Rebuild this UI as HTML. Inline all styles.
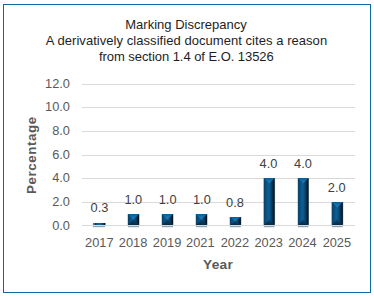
<!DOCTYPE html>
<html><head><meta charset="utf-8"><style>
html,body{margin:0;padding:0;background:#fff;}
body{width:374px;height:297px;overflow:hidden;position:relative;}
svg{position:absolute;left:0;top:0;}
text{font-family:"Liberation Sans",sans-serif;}
.t{font-size:13px;fill:#1e1e1e;}
.ax{font-size:12.8px;fill:#595959;}
.dl{font-size:12.8px;fill:#404040;}
.tt{font-size:13px;font-weight:bold;fill:#595959;}
</style></head><body>
<svg width="374" height="297" viewBox="0 0 374 297">
<defs>
<linearGradient id="g17" x1="0" y1="0" x2="1" y2="0">
<stop offset="0" stop-color="#5a7890"/>
<stop offset="0.15" stop-color="#4a6880"/>
<stop offset="0.22" stop-color="#0a3050"/>
<stop offset="0.32" stop-color="#0b5c92"/>
<stop offset="0.6" stop-color="#0b64a0"/>
<stop offset="0.85" stop-color="#083c62"/>
<stop offset="1" stop-color="#020b14"/>
</linearGradient>
<linearGradient id="gl" x1="0" y1="0" x2="1" y2="0">
<stop offset="0" stop-color="#0a4068"/>
<stop offset="0.5" stop-color="#0b5282"/>
<stop offset="1" stop-color="#0c6398"/>
</linearGradient>
<linearGradient id="gr" x1="0" y1="0" x2="1" y2="0">
<stop offset="0" stop-color="#0b5e92"/>
<stop offset="0.5" stop-color="#073b60"/>
<stop offset="1" stop-color="#020b14"/>
</linearGradient>
<linearGradient id="gt" x1="0" y1="0" x2="0" y2="1">
<stop offset="0" stop-color="#0b5c92"/>
<stop offset="1" stop-color="#1c86c6"/>
</linearGradient>
<linearGradient id="gbt" x1="0" y1="0" x2="0" y2="1">
<stop offset="0" stop-color="#0a4a74"/>
<stop offset="1" stop-color="#052a45"/>
</linearGradient>
</defs>
<rect x="3.5" y="4.5" width="367" height="288" fill="#fff" stroke="#0e6aa2" stroke-width="1"/>
<text x="185.97" y="29.42" text-anchor="middle" class="t">Marking Discrepancy</text>
<text x="186.50" y="44.52" text-anchor="middle" class="t" style="letter-spacing:0.05px">A derivatively classified document cites a reason</text>
<text x="186.33" y="61.36" text-anchor="middle" class="t" style="letter-spacing:-0.05px">from section 1.4 of E.O. 13526</text>
<rect x="82" y="225" width="273" height="1" fill="#d9d9d9"/>
<text x="69.95" y="229.50" text-anchor="end" class="ax">0.0</text>
<rect x="82" y="202" width="273" height="1" fill="#d9d9d9"/>
<text x="69.95" y="205.85" text-anchor="end" class="ax">2.0</text>
<rect x="82" y="178" width="273" height="1" fill="#d9d9d9"/>
<text x="69.95" y="182.20" text-anchor="end" class="ax">4.0</text>
<rect x="82" y="155" width="273" height="1" fill="#d9d9d9"/>
<text x="69.95" y="158.55" text-anchor="end" class="ax">6.0</text>
<rect x="82" y="131" width="273" height="1" fill="#d9d9d9"/>
<text x="69.95" y="134.90" text-anchor="end" class="ax">8.0</text>
<rect x="82" y="107" width="273" height="1" fill="#d9d9d9"/>
<text x="69.95" y="111.25" text-anchor="end" class="ax">10.0</text>
<rect x="82" y="84" width="273" height="1" fill="#d9d9d9"/>
<text x="69.95" y="87.60" text-anchor="end" class="ax">12.0</text>
<rect x="92.90" y="226" width="12.20" height="1.2" fill="#8ea3b3"/>
<rect x="93.50" y="223.00" width="12.20" height="2.00" fill="#000" opacity="0.35"/>
<rect x="93.50" y="223.00" width="12.20" height="2.00" fill="#000" opacity="0.3"/>
<rect x="92.90" y="223.00" width="12.20" height="2.00" fill="url(#g17)"/>
<text x="99.42" y="212.22" text-anchor="middle" class="dl">0.3</text>
<text x="99.35" y="247.14" text-anchor="middle" class="ax">2017</text>
<rect x="127.90" y="226" width="11.10" height="1.2" fill="#8ea3b3"/>
<rect x="128.50" y="214.00" width="11.10" height="11.00" fill="#000" opacity="0.35"/>
<rect x="127.90" y="214.00" width="11.10" height="11.00" fill="#0a4a74"/>
<polygon points="127.90,214.00 133.45,219.50 133.45,219.50 127.90,225.00" fill="url(#gl)"/>
<polygon points="139.00,214.00 133.45,219.50 133.45,219.50 139.00,225.00" fill="url(#gr)"/>
<polygon points="127.90,214.00 139.00,214.00 133.45,219.50" fill="url(#gt)"/>
<polygon points="127.90,225.00 139.00,225.00 133.45,219.50" fill="url(#gbt)"/>
<text x="133.34" y="203.80" text-anchor="middle" class="dl">1.0</text>
<text x="133.09" y="247.14" text-anchor="middle" class="ax">2018</text>
<rect x="161.90" y="226" width="11.10" height="1.2" fill="#8ea3b3"/>
<rect x="162.50" y="214.00" width="11.10" height="11.00" fill="#000" opacity="0.35"/>
<rect x="161.90" y="214.00" width="11.10" height="11.00" fill="#0a4a74"/>
<polygon points="161.90,214.00 167.45,219.50 167.45,219.50 161.90,225.00" fill="url(#gl)"/>
<polygon points="173.00,214.00 167.45,219.50 167.45,219.50 173.00,225.00" fill="url(#gr)"/>
<polygon points="161.90,214.00 173.00,214.00 167.45,219.50" fill="url(#gt)"/>
<polygon points="161.90,225.00 173.00,225.00 167.45,219.50" fill="url(#gbt)"/>
<text x="167.66" y="203.80" text-anchor="middle" class="dl">1.0</text>
<text x="167.03" y="247.14" text-anchor="middle" class="ax">2019</text>
<rect x="195.90" y="226" width="11.10" height="1.2" fill="#8ea3b3"/>
<rect x="196.50" y="214.00" width="11.10" height="11.00" fill="#000" opacity="0.35"/>
<rect x="195.90" y="214.00" width="11.10" height="11.00" fill="#0a4a74"/>
<polygon points="195.90,214.00 201.45,219.50 201.45,219.50 195.90,225.00" fill="url(#gl)"/>
<polygon points="207.00,214.00 201.45,219.50 201.45,219.50 207.00,225.00" fill="url(#gr)"/>
<polygon points="195.90,214.00 207.00,214.00 201.45,219.50" fill="url(#gt)"/>
<polygon points="195.90,225.00 207.00,225.00 201.45,219.50" fill="url(#gbt)"/>
<text x="201.87" y="203.80" text-anchor="middle" class="dl">1.0</text>
<text x="200.33" y="247.14" text-anchor="middle" class="ax">2021</text>
<rect x="229.90" y="226" width="10.90" height="1.2" fill="#8ea3b3"/>
<rect x="230.50" y="217.00" width="10.90" height="8.00" fill="#000" opacity="0.35"/>
<rect x="229.90" y="217.00" width="10.90" height="8.00" fill="#0a4a74"/>
<polygon points="229.90,217.00 235.35,221.00 235.35,221.00 229.90,225.00" fill="url(#gl)"/>
<polygon points="240.80,217.00 235.35,221.00 235.35,221.00 240.80,225.00" fill="url(#gr)"/>
<polygon points="229.90,217.00 240.80,217.00 235.35,221.00" fill="url(#gt)"/>
<polygon points="229.90,225.00 240.80,225.00 235.35,221.00" fill="url(#gbt)"/>
<text x="235.01" y="206.52" text-anchor="middle" class="dl">0.8</text>
<text x="234.89" y="247.14" text-anchor="middle" class="ax">2022</text>
<rect x="263.80" y="226" width="10.70" height="1.2" fill="#8ea3b3"/>
<rect x="264.40" y="178.10" width="10.70" height="46.90" fill="#000" opacity="0.35"/>
<rect x="263.80" y="178.10" width="10.70" height="46.90" fill="#0a4a74"/>
<polygon points="263.80,178.10 269.15,183.45 269.15,219.65 263.80,225.00" fill="url(#gl)"/>
<polygon points="274.50,178.10 269.15,183.45 269.15,219.65 274.50,225.00" fill="url(#gr)"/>
<polygon points="263.80,178.10 274.50,178.10 269.15,183.45" fill="url(#gt)"/>
<polygon points="263.80,225.00 274.50,225.00 269.15,219.65" fill="url(#gbt)"/>
<text x="268.45" y="167.66" text-anchor="middle" class="dl">4.0</text>
<text x="268.73" y="247.14" text-anchor="middle" class="ax">2023</text>
<rect x="297.90" y="226" width="10.50" height="1.2" fill="#8ea3b3"/>
<rect x="298.50" y="178.10" width="10.50" height="46.90" fill="#000" opacity="0.35"/>
<rect x="297.90" y="178.10" width="10.50" height="46.90" fill="#0a4a74"/>
<polygon points="297.90,178.10 303.15,183.35 303.15,219.75 297.90,225.00" fill="url(#gl)"/>
<polygon points="308.40,178.10 303.15,183.35 303.15,219.75 308.40,225.00" fill="url(#gr)"/>
<polygon points="297.90,178.10 308.40,178.10 303.15,183.35" fill="url(#gt)"/>
<polygon points="297.90,225.00 308.40,225.00 303.15,219.75" fill="url(#gbt)"/>
<text x="302.94" y="168.22" text-anchor="middle" class="dl">4.0</text>
<text x="302.45" y="247.14" text-anchor="middle" class="ax">2024</text>
<rect x="331.80" y="226" width="10.90" height="1.2" fill="#8ea3b3"/>
<rect x="332.40" y="202.00" width="10.90" height="23.00" fill="#000" opacity="0.35"/>
<rect x="331.80" y="202.00" width="10.90" height="23.00" fill="#0a4a74"/>
<polygon points="331.80,202.00 337.25,207.45 337.25,219.55 331.80,225.00" fill="url(#gl)"/>
<polygon points="342.70,202.00 337.25,207.45 337.25,219.55 342.70,225.00" fill="url(#gr)"/>
<polygon points="331.80,202.00 342.70,202.00 337.25,207.45" fill="url(#gt)"/>
<polygon points="331.80,225.00 342.70,225.00 337.25,219.55" fill="url(#gbt)"/>
<text x="336.76" y="192.00" text-anchor="middle" class="dl">2.0</text>
<text x="336.89" y="247.14" text-anchor="middle" class="ax">2025</text>
<text x="218.00" y="268.82" text-anchor="middle" class="tt" style="font-size:13.7px;letter-spacing:0.25px">Year</text>
<text transform="translate(35.50,155.05) rotate(-90)" x="0" y="0" text-anchor="middle" class="tt" style="font-size:13.3px;letter-spacing:0.6px">Percentage</text>
</svg>
</body></html>
